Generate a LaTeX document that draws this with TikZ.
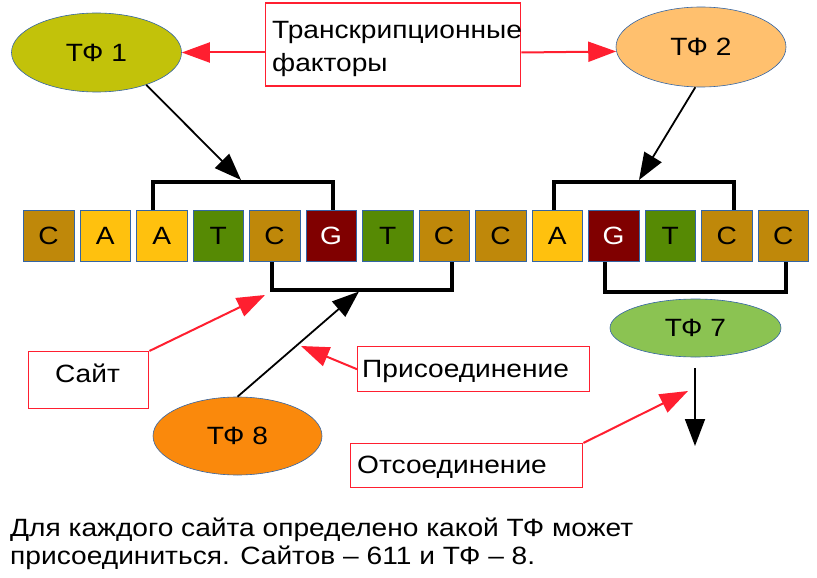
\documentclass[tikz,border=0pt]{standalone}
\usepackage{fontspec}
\setmainfont[FakeStretch=1.125]{Liberation Sans}
\usetikzlibrary{arrows.meta,shapes.geometric}
\definecolor{cC}{HTML}{BF880A}
\definecolor{cA}{HTML}{FFC10E}
\definecolor{cT}{HTML}{568A04}
\definecolor{cG}{HTML}{800000}
\definecolor{bord}{HTML}{3465A4}
\definecolor{myred}{HTML}{FF1F30}
\definecolor{tfa}{HTML}{C2C20A}
\definecolor{tfb}{HTML}{FFC06E}
\definecolor{tfc}{HTML}{8BC352}
\definecolor{tfd}{HTML}{FA890C}
\begin{document}
\begin{tikzpicture}[x=1pt,y=-1pt,
  txt/.style={font=\fontsize{25}{33}\selectfont,inner sep=0},
  nuc/.style={draw=bord,line width=0.8pt,minimum width=50.5pt,minimum height=51pt,inner sep=0,anchor=north west,font=\fontsize{25}{30}\selectfont},
  tf/.style={ellipse,draw=bord,line width=0.6pt,inner sep=0,font=\fontsize{25}{30}\selectfont},
  note/.style={draw=myred,line width=1.4pt,inner sep=0,anchor=north west},
  redarr/.style={myred,line width=2pt,-{Triangle[length=28pt,width=20pt]}},
  blkarr/.style={black,line width=1.8pt,-{Triangle[length=27pt,width=20pt]}},
  bracket/.style={line width=4pt,line join=miter}]
\useasboundingbox (0,0) rectangle (817,578);
% nucleotides
\foreach \l/\c/\t [count=\i] in {C/cC/black,A/cA/black,A/cA/black,T/cT/black,C/cC/black,G/cG/white,T/cT/black,C/cC/black,C/cC/black,A/cA/black,G/cG/white,T/cT/black,C/cC/black,C/cC/black}
  \node[nuc,fill=\c,text=\t] (n\i) at ({23+56.5*(\i-1)},210) {\l};
% brackets
\coordinate (u1a) at (153,210); \coordinate (u1b) at (333,210);
\coordinate (u2a) at (554,210); \coordinate (u2b) at (734,210);
\coordinate (d1a) at (272,262); \coordinate (d1b) at (452,262);
\coordinate (d2a) at (605,262); \coordinate (d2b) at (786,262);
\draw[bracket] (u1a) -- ++(0,-28) -| (u1b);
\draw[bracket] (u2a) -- ++(0,-28) -| (u2b);
\draw[bracket] (d1a) -- ++(0,27.5) -| (d1b);
\draw[bracket] (d2a) -- ++(0,29.5) -| (d2b);
\coordinate (t1) at (241,180);
\coordinate (t2) at (639,180);
\coordinate (t3) at (359,291.5);
% transcription factors
\node[tf,fill=tfa,minimum width=170pt,minimum height=79pt] (tf1) at (96.5,52.5) {ТФ 1};
\node[tf,fill=tfb,minimum width=170pt,minimum height=80pt] (tf2) at (701,47) {ТФ 2};
\node[tf,fill=tfc,minimum width=171pt,minimum height=58pt] (tf7) at (695.5,328) {ТФ 7};
\node[tf,fill=tfd,minimum width=169pt,minimum height=78pt] (tf8) at (237.5,436) {ТФ 8};
% notes
\node[note,minimum width=255pt,minimum height=83pt] (trans) at (265,2.5) {};
\node[txt,anchor=north west,align=left] (transtxt) at (272,21.3) {Транскрипционные\\факторы};
\node[note,minimum width=120pt,minimum height=57pt] (site) at (28,351) {};
\node[txt,anchor=base] (sitetxt) at (87.5,382) {Сайт};
\node[note,minimum width=232pt,minimum height=45pt] (attach) at (357,346) {};
\node[txt,anchor=base west] (attachtxt) at (362,377) {Присоединение};
\node[note,minimum width=232pt,minimum height=44pt] (detach) at (350,443) {};
\node[txt,anchor=base west] (detachtxt) at (357,473) {Отсоединение};
% red arrows
\coordinate (sitetip) at (265,295);
\coordinate (attachtip) at (301,346);
\coordinate (detachtip) at (688,391);
\draw[redarr] (trans.west |- tf1) -- (tf1.east);
\draw[redarr] (trans.east |- tf1) -- (tf2.183.5);
\draw[redarr] (site.north east) -- (sitetip);
\draw[redarr] (attach.west) -- (attachtip);
\draw[redarr] (detach.north east) -- (detachtip);
% black arrows
\draw[blkarr] (tf1.-33) -- (t1);
\draw[blkarr] (tf2.-98) -- (t2);
\draw[blkarr] (tf8.north) -- (t3);
\coordinate (off1) at (695,368);
\coordinate (off2) at (695,446);
\draw[blkarr] (off1) -- (off2);
% caption
\node[txt,anchor=north west,align=left,font=\fontsize{25}{28}\selectfont] (caption) at (10,518) {Для каждого сайта определено какой ТФ может\\присоединиться. Сайтов – 611 и ТФ – 8.};
\end{tikzpicture}
\end{document}
